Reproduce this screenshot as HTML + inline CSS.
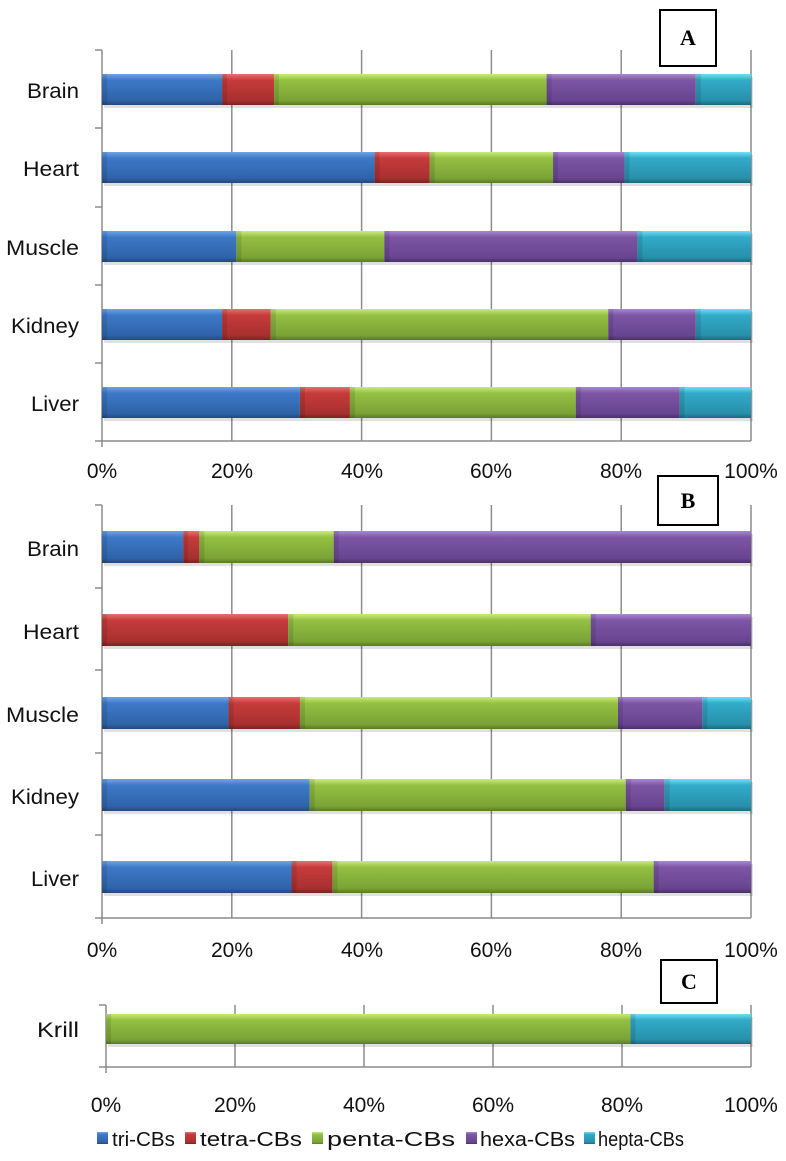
<!DOCTYPE html>
<html><head><meta charset="utf-8"><style>
html,body{margin:0;padding:0;background:#fff;}
svg{display:block;font-family:"Liberation Sans",sans-serif;}
.lab{font-size:21px;fill:#111;}
.box{font-family:"Liberation Serif",serif;font-weight:bold;font-size:22px;}
</style></head><body>
<svg id="s" width="786" height="1161" viewBox="0 0 786 1161">
<defs>
<linearGradient id="g0" x1="0" y1="0" x2="0" y2="1"><stop offset="0" stop-color="#6fa3e6"/><stop offset=".2" stop-color="#3d79c8"/><stop offset=".85" stop-color="#2f63a8"/><stop offset="1" stop-color="#24497c"/></linearGradient>
<linearGradient id="g1" x1="0" y1="0" x2="0" y2="1"><stop offset="0" stop-color="#e87070"/><stop offset=".2" stop-color="#c63b3b"/><stop offset=".85" stop-color="#a83030"/><stop offset="1" stop-color="#7a2222"/></linearGradient>
<linearGradient id="g2" x1="0" y1="0" x2="0" y2="1"><stop offset="0" stop-color="#c8ec7a"/><stop offset=".2" stop-color="#94c043"/><stop offset=".85" stop-color="#7aa336"/><stop offset="1" stop-color="#587a25"/></linearGradient>
<linearGradient id="g3" x1="0" y1="0" x2="0" y2="1"><stop offset="0" stop-color="#a989cf"/><stop offset=".2" stop-color="#7d55a6"/><stop offset=".85" stop-color="#684590"/><stop offset="1" stop-color="#4a3068"/></linearGradient>
<linearGradient id="g4" x1="0" y1="0" x2="0" y2="1"><stop offset="0" stop-color="#6ee0f5"/><stop offset=".2" stop-color="#32abc9"/><stop offset=".85" stop-color="#2890aa"/><stop offset="1" stop-color="#1c6a7e"/></linearGradient>
</defs>
<g id="grid" stroke="#8c8c8c" stroke-width="1.5"></g>
<g id="bars"></g>
<g class="lab" text-anchor="end">
<text x="79" y="98" textLength="52" lengthAdjust="spacingAndGlyphs">Brain</text><text x="79" y="176" textLength="56" lengthAdjust="spacingAndGlyphs">Heart</text><text x="79" y="255" textLength="73" lengthAdjust="spacingAndGlyphs">Muscle</text><text x="79" y="333" textLength="68" lengthAdjust="spacingAndGlyphs">Kidney</text><text x="79" y="411" textLength="48" lengthAdjust="spacingAndGlyphs">Liver</text>
<text x="79" y="556" textLength="52" lengthAdjust="spacingAndGlyphs">Brain</text><text x="79" y="639" textLength="56" lengthAdjust="spacingAndGlyphs">Heart</text><text x="79" y="722" textLength="73" lengthAdjust="spacingAndGlyphs">Muscle</text><text x="79" y="804" textLength="68" lengthAdjust="spacingAndGlyphs">Kidney</text><text x="79" y="886" textLength="48" lengthAdjust="spacingAndGlyphs">Liver</text>
<text x="79" y="1037" textLength="42" lengthAdjust="spacingAndGlyphs">Krill</text>
</g>
<g class="lab" text-anchor="middle">
<text x="102" y="478">0%</text><text x="232" y="478">20%</text><text x="362" y="478">40%</text><text x="491" y="478">60%</text><text x="621" y="478">80%</text><text x="751" y="478">100%</text>
<text x="102" y="957">0%</text><text x="232" y="957">20%</text><text x="362" y="957">40%</text><text x="491" y="957">60%</text><text x="621" y="957">80%</text><text x="751" y="957">100%</text>
<text x="106" y="1112">0%</text><text x="235" y="1112">20%</text><text x="364" y="1112">40%</text><text x="493" y="1112">60%</text><text x="622" y="1112">80%</text><text x="751" y="1112">100%</text>
</g>
<rect x="660" y="10" width="56" height="56" fill="#fff" stroke="#000" stroke-width="2"/><text class="box" x="688" y="45" text-anchor="middle">A</text>
<rect x="658" y="476" width="60" height="49" fill="#fff" stroke="#000" stroke-width="2"/><text class="box" x="688" y="508" text-anchor="middle">B</text>
<rect x="661" y="960" width="56" height="43" fill="#fff" stroke="#000" stroke-width="2"/><text class="box" x="689" y="989" text-anchor="middle">C</text>
<g font-size="20" fill="#111">
<rect x="97" y="1132" width="11" height="12" fill="url(#g0)"/><text x="112" y="1146" textLength="63" lengthAdjust="spacingAndGlyphs">tri-CBs</text>
<rect x="185" y="1132" width="11" height="12" fill="url(#g1)"/><text x="200" y="1146" textLength="102" lengthAdjust="spacingAndGlyphs">tetra-CBs</text>
<rect x="312" y="1132" width="11" height="12" fill="url(#g2)"/><text x="327" y="1146" textLength="128" lengthAdjust="spacingAndGlyphs">penta-CBs</text>
<rect x="466" y="1132" width="11" height="12" fill="url(#g3)"/><text x="480" y="1146" textLength="95" lengthAdjust="spacingAndGlyphs">hexa-CBs</text>
<rect x="584" y="1132" width="11" height="12" fill="url(#g4)"/><text x="598" y="1146" textLength="86" lengthAdjust="spacingAndGlyphs">hepta-CBs</text>
</g>
</svg>
<script>
var NS="http://www.w3.org/2000/svg";
function el(p,t,a){var e=document.createElementNS(NS,t);for(var k in a)e.setAttribute(k,a[k]);p.appendChild(e);return e;}
var grid=document.getElementById("grid"),bars=document.getElementById("bars");
var panels=[
 {x0:102,x1:751,top:50,bot:441,ticks:[50,128,207,285,363,441],h:31,
  rows:[[74,[18.5,8,42,23,8.5]],[152,[42,8.5,19,11,19.5]],[231,[20.7,0,22.8,39,17.5]],[309,[18.5,7.5,52,13.5,8.5]],[387,[30.5,7.7,34.8,16,11]]]},
 {x0:102,x1:751,top:505,bot:918,ticks:[505,588,670,753,835,918],h:32,
  rows:[[531,[12.5,2.5,20.7,64.3,0]],[614,[0,28.7,46.6,24.7,0]],[697,[19.5,11,49,13,7.5]],[779,[32,0,48.7,6,13.3]],[861,[29.2,6.3,49.5,15,0]]]},
 {x0:106,x1:751,top:1005,bot:1067,ticks:[1005,1067],h:30,rows:[[1014,[0,0,81.3,0,18.7]]]}
];
panels.forEach(function(P){
 for(var i=0;i<=5;i++){var x=P.x0+(P.x1-P.x0)*i/5;el(grid,"line",{x1:x,y1:P.top,x2:x,y2:P.bot+ (i==0?6:0)});}
 el(grid,"line",{x1:P.x0,y1:P.bot,x2:P.x1,y2:P.bot});
 P.ticks.forEach(function(t){el(grid,"line",{x1:P.x0-7,y1:t,x2:P.x0,y2:t});});
 P.rows.forEach(function(r){
  var y=r[0],acc=0,w=P.x1-P.x0;
  el(bars,"rect",{x:P.x0+2,y:y+3,width:w,height:P.h,fill:"#000",opacity:.12});
  r[1].forEach(function(v,i){if(v<=0)return;var xa=P.x0+w*acc/100,xb=P.x0+w*(acc+v)/100;acc+=v;
   el(bars,"rect",{x:xa,y:y,width:xb-xa,height:P.h,fill:"url(#g"+i+")"});
   el(bars,"rect",{x:xa,y:y,width:Math.min(5,xb-xa),height:P.h,fill:"#000",opacity:.1});
  });
 });
});
</script>
</body></html>
